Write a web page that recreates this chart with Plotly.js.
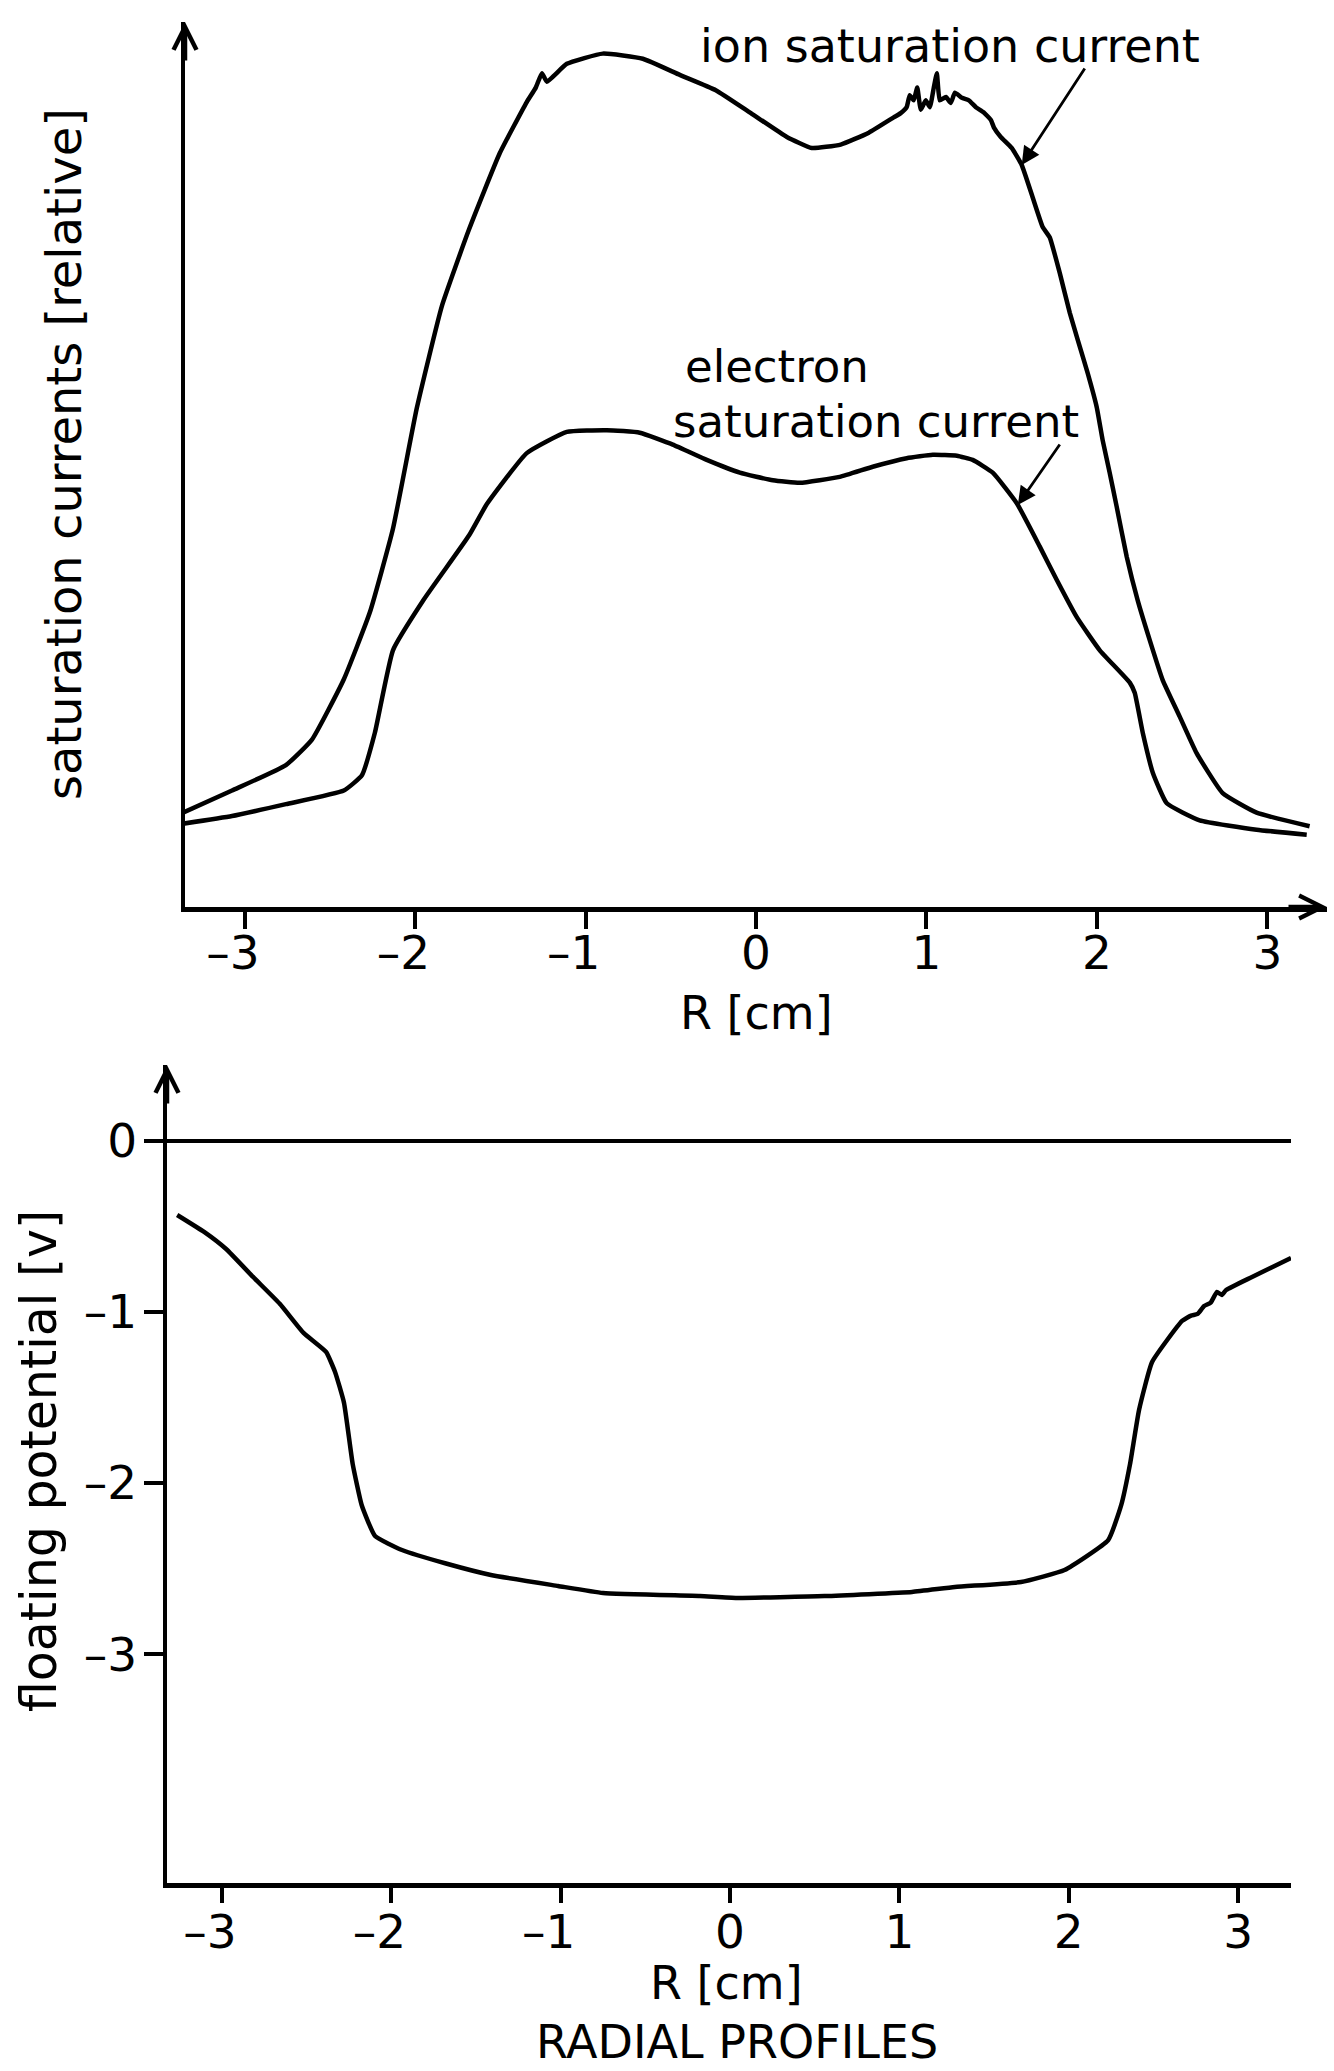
<!DOCTYPE html>
<html>
<head>
<meta charset="utf-8">
<script src="https://cdn.plot.ly/plotly-3.0.1.min.js"></script>
<style>
  html, body { margin: 0; padding: 0; background: #fff; }
  #chart { width: 1334px; height: 2071px; }
</style>
</head>
<body>
<div id="chart"></div>
<script>
// ---------- data ----------
// Upper panel: saturation currents (relative units) vs radius R [cm]
const R_ion = [-3.362,-3.074,-2.758,-2.605,-2.418,-2.265,-2.130,-1.990,-1.843,-1.684,-1.503,-1.345,-1.292,-1.256,-1.227,-1.110,-0.899,-0.664,-0.447,-0.236,-0.030,0.181,0.327,0.497,0.662,0.808,0.849,0.884,0.902,0.925,0.946,0.967,0.996,1.020,1.043,1.061,1.078,1.114,1.143,1.167,1.208,1.249,1.290,1.335,1.378,1.396,1.436,1.500,1.559,1.623,1.682,1.723,1.782,1.841,1.888,1.946,1.999,2.034,2.075,2.116,2.175,2.239,2.310,2.386,2.486,2.585,2.738,2.937,3.248];
const ionCurrent = [11.1,13.7,16.7,19.7,26.8,34.7,44.5,58.7,70.7,79.7,88.7,94.7,96.4,98.1,97.1,99.2,100.4,99.8,97.9,96.1,93.4,90.6,89.3,89.7,91.1,92.9,93.4,94.1,95.5,94.9,96.4,93.8,94.9,94.1,96.4,98.1,94.9,95.3,94.6,95.8,95.2,94.9,94.1,93.5,92.6,91.7,90.6,89.3,87.3,83.5,80.0,78.8,74.6,69.9,66.7,62.8,58.8,54.9,51.1,47.1,41.2,36.1,31.4,26.7,22.4,18.1,13.4,11.1,9.5];

const R_electron = [-3.362,-3.074,-2.758,-2.418,-2.312,-2.236,-2.130,-1.948,-1.684,-1.579,-1.345,-1.110,-0.875,-0.682,-0.488,-0.289,-0.095,0.099,0.257,0.491,0.685,0.884,1.037,1.178,1.271,1.389,1.530,1.665,1.764,1.882,2.017,2.193,2.222,2.269,2.328,2.410,2.603,2.937,3.231];
const electronCurrent = [9.8,10.7,12.1,13.7,15.5,20.5,30.2,36.2,43.7,47.4,53.4,55.9,56.1,55.8,54.4,52.6,51.1,50.2,49.9,50.6,51.8,52.8,53.2,53.1,52.6,51.1,47.5,42.4,38.5,34.1,30.2,26.4,25.2,20.5,15.8,12.2,10.2,9.1,8.5];

// Lower panel: floating potential [V] vs radius R [cm]
const R_float = [-3.263,-3.104,-2.974,-2.815,-2.656,-2.517,-2.384,-2.331,-2.278,-2.227,-2.174,-2.095,-1.936,-1.676,-1.411,-1.015,-0.749,-0.177,0.041,0.558,1.075,1.328,1.718,1.975,2.233,2.310,2.362,2.415,2.492,2.669,2.722,2.761,2.799,2.838,2.875,2.903,2.929,3.082,3.312];
const floatingPotential = [-0.435,-0.534,-0.634,-0.797,-0.955,-1.124,-1.235,-1.352,-1.533,-1.889,-2.129,-2.310,-2.392,-2.471,-2.538,-2.602,-2.643,-2.661,-2.672,-2.661,-2.637,-2.608,-2.579,-2.509,-2.334,-2.129,-1.889,-1.574,-1.294,-1.054,-1.023,-1.013,-0.967,-0.947,-0.885,-0.902,-0.873,-0.797,-0.686];

// tick values and their labels (short dash as in the original lettering)
const rTicks = [-3, -2, -1, 0, 1, 2, 3];
const rTickText = ['\u20133\u2002', '\u20132\u2002', '\u20131\u2002', '0', '1', '2', '3'];
const potentialTicks = [0, -1, -2, -3];
const potentialTickText = ['0', '\u20131', '\u20132', '\u20133'];

// label pointer targets (points on the curves)
const ionPointer = { R: 1.559, value: 87.3 };
const electronPointer = { R: 1.536, value: 47.3 };

// ---------- styling ----------
const W = 1334, H = 2071;
const INK = '#000000';
const FONT = 'DejaVu Sans';
const px = v => v / W;            // x pixel -> paper
const py = v => 1 - v / H;        // y pixel (from top) -> paper

const topX = [-3.35, 3.35];
const topY = [0, 104.12];
const botX = [-3.323, 3.312];
const botY = [-4.337, 0.441];

const lineStyle = { color: INK, width: 4.5, shape: 'spline', smoothing: 0.4 };

const traces = [
  { x: R_ion, y: ionCurrent, xaxis: 'x', yaxis: 'y', type: 'scatter', mode: 'lines',
    name: 'ion saturation current', line: lineStyle },
  { x: R_electron, y: electronCurrent, xaxis: 'x', yaxis: 'y', type: 'scatter', mode: 'lines',
    name: 'electron saturation current', line: lineStyle },
  { x: R_float, y: floatingPotential, xaxis: 'x2', yaxis: 'y2', type: 'scatter', mode: 'lines',
    name: 'floating potential', line: lineStyle }
];

const tickFont = { family: FONT, size: 47, color: INK };
const baseAxis = {
  showline: true, linecolor: INK, linewidth: 4.5,
  showgrid: false, zeroline: false, fixedrange: true
};

const layout = {
  width: W, height: H,
  margin: { l: 0, r: 0, t: 0, b: 0, pad: 0 },
  paper_bgcolor: '#ffffff', plot_bgcolor: '#ffffff',
  showlegend: false,
  font: { family: FONT, color: INK },
  xaxis: Object.assign({}, baseAxis, {
    domain: [px(185), px(1327)], range: topX, anchor: 'y',
    tickmode: 'array', tickvals: rTicks, ticktext: rTickText,
    ticks: 'outside', ticklen: 17, tickwidth: 4, tickcolor: INK,
    tickfont: tickFont, ticklabelstandoff: -16
  }),
  yaxis: Object.assign({}, baseAxis, {
    domain: [py(907), py(22)], range: topY, anchor: 'x',
    ticks: '', showticklabels: false
  }),
  xaxis2: Object.assign({}, baseAxis, {
    domain: [px(167), px(1291)], range: botX, anchor: 'y2',
    tickmode: 'array', tickvals: rTicks, ticktext: rTickText,
    ticks: 'outside', ticklen: 15, tickwidth: 4, tickcolor: INK,
    tickfont: tickFont, ticklabelstandoff: -11
  }),
  yaxis2: Object.assign({}, baseAxis, {
    domain: [py(1883), py(1065)], range: botY, anchor: 'x2',
    tickmode: 'array', tickvals: potentialTicks, ticktext: potentialTickText,
    ticks: 'outside', ticklen: 19, tickwidth: 4, tickcolor: INK,
    tickfont: tickFont, ticklabelstandoff: -3,
    zeroline: true, zerolinecolor: INK, zerolinewidth: 4
  }),
  annotations: [
    // curve labels
    { text: 'ion saturation current', xref: 'paper', yref: 'paper',
      x: px(950), y: py(46), xanchor: 'center', yanchor: 'middle', showarrow: false,
      font: { family: FONT, size: 46, color: INK } },
    { text: 'electron', xref: 'paper', yref: 'paper', borderpad: 0,
      x: px(777), y: py(366), xanchor: 'center', yanchor: 'middle', showarrow: false,
      font: { family: FONT, size: 45, color: INK } },
    { text: 'saturation current', xref: 'paper', yref: 'paper', borderpad: 0,
      x: px(876), y: py(421), xanchor: 'center', yanchor: 'middle', showarrow: false,
      font: { family: FONT, size: 45, color: INK } },
    // pointer arrows
    { text: '', xref: 'x', yref: 'y', x: ionPointer.R, y: ionPointer.value,
      ax: 64, ay: -98, showarrow: true, arrowhead: 2, arrowsize: 1.3, arrowwidth: 2.8, arrowcolor: INK },
    { text: '', xref: 'x', yref: 'y', x: electronPointer.R, y: electronPointer.value,
      ax: 43, ay: -62, showarrow: true, arrowhead: 2, arrowsize: 1.3, arrowwidth: 2.8, arrowcolor: INK },
    // axis arrowheads
    { text: '', xref: 'x', yref: 'y', x: topX[0], y: topY[1],
      ax: 0, ay: 40, showarrow: true, arrowhead: 5, arrowsize: 1.0, arrowwidth: 4.5, arrowcolor: INK },
    { text: '', xref: 'x', yref: 'y', x: topX[1], y: 0,
      ax: -40, ay: 0, showarrow: true, arrowhead: 5, arrowsize: 1.0, arrowwidth: 4.5, arrowcolor: INK },
    { text: '', xref: 'x2', yref: 'y2', x: botX[0], y: botY[1],
      ax: 0, ay: 40, showarrow: true, arrowhead: 5, arrowsize: 1.0, arrowwidth: 4.5, arrowcolor: INK },
    // axis titles
    { text: 'saturation currents [relative]', xref: 'paper', yref: 'paper',
      x: px(64), y: py(454), textangle: -90, xanchor: 'center', yanchor: 'middle', showarrow: false,
      font: { family: FONT, size: 48, color: INK } },
    { text: 'R [cm]', xref: 'paper', yref: 'paper',
      x: px(756), y: py(1013), xanchor: 'center', yanchor: 'middle', showarrow: false,
      font: { family: FONT, size: 46, color: INK } },
    { text: 'floating potential [v]', xref: 'paper', yref: 'paper',
      x: px(39), y: py(1461), textangle: -90, xanchor: 'center', yanchor: 'middle', showarrow: false,
      font: { family: FONT, size: 49, color: INK } },
    { text: 'R [cm]', xref: 'paper', yref: 'paper',
      x: px(727), y: py(1983), xanchor: 'center', yanchor: 'middle', showarrow: false,
      font: { family: FONT, size: 46, color: INK } },
    { text: 'RADIAL PROFILES', xref: 'paper', yref: 'paper', borderpad: 0,
      x: px(737), y: py(2070), xanchor: 'center', yanchor: 'bottom', showarrow: false,
      font: { family: FONT, size: 46, color: INK } }
  ]
};

Plotly.newPlot('chart', traces, layout, { displayModeBar: false, staticPlot: true });
</script>
</body>
</html>
